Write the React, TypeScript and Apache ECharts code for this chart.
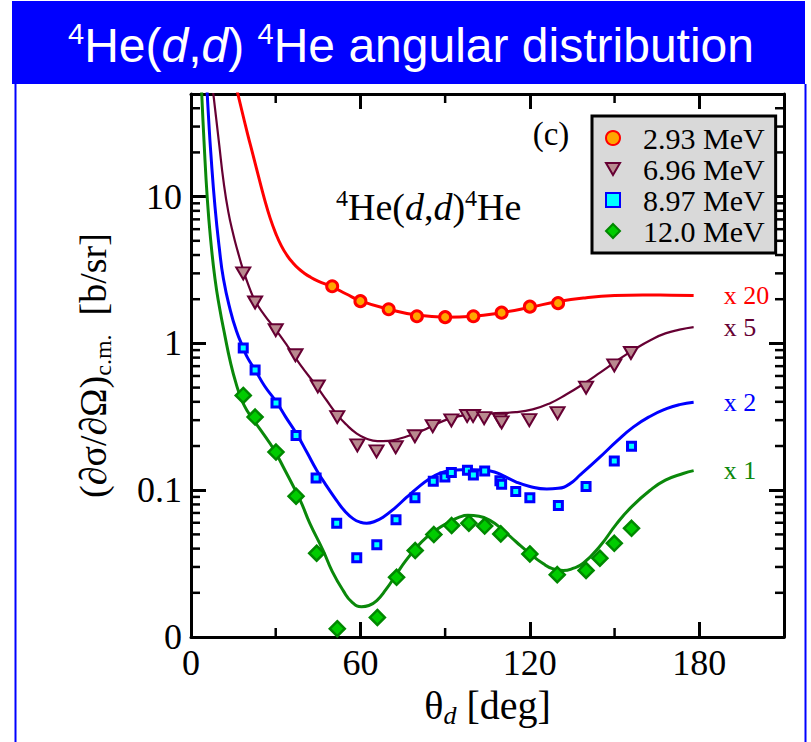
import React, { useEffect, useRef } from 'react';
import * as echarts from 'echarts';

const SERIF = '"Liberation Serif", "Times New Roman", Times, serif';
const SANS = '"Liberation Sans", Arial, Helvetica, sans-serif';

// Legend names and the multipliers applied to each curve
const energyNames = ['2.93 MeV', '6.96 MeV', '8.97 MeV', '12.0 MeV'];
const scaleFactors = ['x 20', 'x 5', 'x 2', 'x 1'];

// Axis ticks
const X_MIN = 0;
const X_MAX = 210;
const Y_MIN = 0.01;
const Y_MAX = 50;
const xTickLabels = [0, 60, 120, 180];
const xMinorTicks = [30, 90, 150];
const yTickValues = [0.01, 0.1, 1, 10];
const yTickLabels = ['0', '0.1', '1', '10'];
const yMinorTicks = [
  0.02, 0.03, 0.04, 0.05, 0.06, 0.07, 0.08, 0.09,
  0.2, 0.3, 0.4, 0.5, 0.6, 0.7, 0.8, 0.9,
  2, 3, 4, 5, 6, 7, 8, 9,
  20, 30, 40,
];

// Measured cross sections (scaled), theta in deg, sigma in b/sr
const angles293 = [50, 60, 70, 80, 90, 100, 110, 120, 130];
const values293 = [2.45, 1.94, 1.71, 1.53, 1.51, 1.53, 1.62, 1.78, 1.88];

const angles696 = [18.5, 22.7, 30, 37, 44.9, 51.8, 58.9, 65.7, 72.5, 79.3, 85.6, 92.2, 97.8, 99.9, 103.8, 109.4, 110, 119.8, 129.8, 139.9, 149.9, 155.8];
const values696 = [3.0, 1.9, 1.23, 0.83, 0.509, 0.315, 0.202, 0.184, 0.196, 0.233, 0.273, 0.299, 0.32, 0.32, 0.31, 0.302, 0.29, 0.3, 0.335, 0.5, 0.708, 0.86];

const angles897 = [18.5, 22.7, 30.1, 37.2, 44.3, 51.6, 58.7, 65.8, 72.6, 79.3, 85.8, 89.9, 92.2, 97.9, 100, 104, 109.4, 110, 115, 120, 130.1, 139.9, 149.9, 156];
const values897 = [0.93, 0.66, 0.392, 0.236, 0.121, 0.0596, 0.0346, 0.0425, 0.063, 0.0887, 0.115, 0.123, 0.132, 0.137, 0.127, 0.135, 0.116, 0.11, 0.098, 0.0887, 0.0787, 0.106, 0.158, 0.199];

const angles120 = [18.5, 22.7, 30.1, 37.2, 44.5, 51.8, 66, 72.8, 79.4, 86, 92.3, 98.4, 104, 109.7, 120, 129.7, 139.9, 144.8, 149.9, 156];
const values120 = [0.442, 0.315, 0.182, 0.091, 0.0372, 0.0114, 0.0136, 0.0255, 0.0388, 0.0499, 0.0574, 0.0596, 0.057, 0.0504, 0.0368, 0.0266, 0.0284, 0.0344, 0.0435, 0.055];

// Calculated curves (same scaling)
const fitAngles293 = [16, 18, 20, 22, 24, 26, 28, 30, 32, 34, 36, 38, 40, 42, 45, 50, 55, 60, 70, 80, 90, 100, 110, 120, 130, 140, 150, 160, 170, 178];
const fitValues293 = [55.8, 38.6, 26.9, 19.1, 13.5, 9.66, 7.16, 5.62, 4.62, 3.98, 3.55, 3.24, 3.02, 2.85, 2.66, 2.43, 2.17, 1.95, 1.71, 1.56, 1.51, 1.53, 1.62, 1.76, 1.93, 2.05, 2.12, 2.14, 2.13, 2.12];

const fitAngles696 = [7.5, 9, 10, 11.5, 13.2, 15, 16.5, 18.5, 20.5, 22.7, 26, 30, 34, 38.6, 44.5, 48, 51.6, 55, 58.7, 62, 66, 70, 74, 78, 82, 86, 91, 96, 100, 108, 115, 121, 127, 133, 139, 145, 151, 157, 163, 168, 173, 178];
const fitValues696 = [58.6, 33, 22.5, 12.8, 7.9, 5.5, 4.27, 3.15, 2.45, 1.95, 1.56, 1.24, 0.97, 0.72, 0.51, 0.41, 0.33, 0.28, 0.243, 0.225, 0.216, 0.217, 0.225, 0.238, 0.255, 0.277, 0.305, 0.322, 0.328, 0.335, 0.34, 0.355, 0.39, 0.45, 0.53, 0.635, 0.765, 0.91, 1.06, 1.17, 1.24, 1.29];

const fitAngles897 = [5.6, 6.2, 7, 8.5, 10, 11.5, 14, 16, 18.5, 20, 22.7, 26, 30, 33.5, 37.4, 41, 44.5, 48, 51.6, 54.5, 57.5, 60, 62.2, 65, 68, 72, 76.4, 80, 84.6, 88, 91.7, 96, 100, 106, 110, 115, 120, 126, 130, 134, 138, 144.8, 150.7, 156.6, 162.5, 168.4, 173, 178];
const fitValues897 = [56, 35, 20, 8.5, 4.5, 2.75, 1.66, 1.23, 0.93, 0.8, 0.66, 0.515, 0.405, 0.316, 0.242, 0.182, 0.137, 0.107, 0.085, 0.072, 0.0638, 0.0605, 0.0596, 0.0612, 0.0655, 0.075, 0.0896, 0.103, 0.12, 0.13, 0.136, 0.138, 0.138, 0.135, 0.127, 0.114, 0.106, 0.102, 0.103, 0.11, 0.128, 0.168, 0.215, 0.269, 0.318, 0.359, 0.383, 0.398];

const fitAngles120 = [3.5, 3.8, 4.6, 5.8, 7, 8.5, 10, 12, 14, 16, 18, 20, 22.7, 26, 29.1, 33, 38.6, 42, 46.8, 50, 53.9, 57, 60.4, 63, 65.8, 69, 72.8, 76, 79.9, 83, 87, 91, 95, 98, 102, 106, 110, 115.3, 120, 124.8, 128, 131.8, 135, 138.9, 145, 150.7, 156, 162.5, 168, 174.3, 178];
const fitValues120 = [67, 50, 24, 9.5, 5.0, 2.75, 1.8, 1.13, 0.74, 0.53, 0.41, 0.345, 0.29, 0.236, 0.193, 0.14, 0.086, 0.06, 0.0388, 0.028, 0.0207, 0.0173, 0.0161, 0.0164, 0.0177, 0.021, 0.0269, 0.033, 0.0409, 0.047, 0.054, 0.06, 0.0655, 0.0675, 0.0665, 0.062, 0.0545, 0.0442, 0.037, 0.0315, 0.0292, 0.0284, 0.0292, 0.0318, 0.042, 0.059, 0.077, 0.0995, 0.117, 0.13, 0.136];

const lineColors = ['#ff0000', '#660033', '#0000ff', '#0a880a'];

const zip = (xs: number[], ys: number[]) => xs.map((x, i) => [x, ys[i]]);

function fitSeries(name: string, xs: number[], ys: number[], color: string, width: number, factor: string) {
  return {
    name,
    type: 'line',
    data: zip(xs, ys),
    showSymbol: false,
    smooth: 0.5,
    clip: true,
    silent: true,
    z: 2,
    lineStyle: { color, width },
    itemStyle: { color },
    endLabel: {
      show: true,
      formatter: factor,
      distance: 30,
      color,
      fontFamily: SERIF,
      fontSize: 26,
    },
  };
}

export default function App() {
  const ref = useRef<HTMLDivElement>(null);

  useEffect(() => {
    if (!ref.current) return;
    const chart = echarts.init(ref.current, undefined, { renderer: 'svg' });

    const tickLine = (x1: number, y1: number, x2: number, y2: number) => ({
      type: 'line',
      shape: { x1, y1, x2, y2 },
      style: { stroke: '#000', lineWidth: 2.5 },
    });

    const axisCommon = {
      axisLine: { show: true, onZero: false, lineStyle: { color: '#000', width: 3 } },
      axisTick: { show: true, inside: true, length: 15, lineStyle: { color: '#000', width: 3 } },
      splitLine: { show: false },
    };

    const option: any = {
      animation: false,
      backgroundColor: '#ffffff',
      grid: { left: 191, top: 94, width: 593, height: 543, containLabel: false, outerBoundsMode: 'none' },
      legend: {
        data: [
          { name: energyNames[0] },
          { name: energyNames[1], icon: 'path://M0,0L14,0L7,12Z' },
          { name: energyNames[2] },
          { name: energyNames[3] },
        ],
        orient: 'vertical',
        left: 592,
        top: 116,
        backgroundColor: '#d9d9d9',
        borderColor: '#000',
        borderWidth: 3,
        borderRadius: 0,
        padding: [7, 11, 7, 13],
        itemGap: 1,
        itemWidth: 14,
        itemHeight: 14,
        selectedMode: false,
        textStyle: { fontFamily: SERIF, fontSize: 30, color: '#000', padding: [0, 0, 0, 18] },
      },
      xAxis: [
        {
          type: 'value',
          min: X_MIN,
          max: X_MAX,
          interval: 60,
          position: 'bottom',
          ...axisCommon,
          axisLabel: {
            show: true,
            margin: 8,
            color: '#000',
            fontFamily: SERIF,
            fontSize: 36,
            formatter: (v: number) => (xTickLabels.indexOf(v) >= 0 ? String(v) : ''),
          },
          name: '{n|θ}{s|d}{n| [deg]}',
          nameLocation: 'middle',
          nameGap: 42,
          nameTextStyle: {
            fontFamily: SERIF,
            fontSize: 40,
            color: '#000',
            rich: {
              n: { fontFamily: SERIF, fontSize: 40, color: '#000', lineHeight: 46 },
              s: { fontFamily: SERIF, fontSize: 26, fontStyle: 'italic', color: '#000', verticalAlign: 'bottom', lineHeight: 26 },
            },
          },
        },
        {
          type: 'value',
          min: X_MIN,
          max: X_MAX,
          interval: 60,
          position: 'top',
          ...axisCommon,
          axisLabel: { show: false },
        },
      ],
      yAxis: [
        {
          type: 'log',
          logBase: 10,
          min: Y_MIN,
          max: Y_MAX,
          position: 'left',
          ...axisCommon,
          axisLabel: {
            show: true,
            margin: 9,
            color: '#000',
            fontFamily: SERIF,
            fontSize: 36,
            formatter: (v: number) => {
              for (let i = 0; i < yTickValues.length; i++) {
                if (Math.abs(Math.log10(v) - Math.log10(yTickValues[i])) < 1e-6) return yTickLabels[i];
              }
              return '';
            },
          },
          name: '{n|(∂σ/∂Ω)}{s|c.m.}{n|  [b/sr]}',
          nameLocation: 'middle',
          nameRotate: 90,
          nameGap: 76,
          nameTextStyle: {
            fontFamily: SERIF,
            fontSize: 38,
            color: '#000',
            rich: {
              n: { fontFamily: SERIF, fontSize: 38, color: '#000', lineHeight: 44 },
              s: { fontFamily: SERIF, fontSize: 24, color: '#000', verticalAlign: 'bottom', lineHeight: 24 },
            },
          },
        },
        {
          type: 'log',
          logBase: 10,
          min: Y_MIN,
          max: Y_MAX,
          position: 'right',
          ...axisCommon,
          axisLabel: { show: false },
        },
      ],
      series: [
        fitSeries('fit 2.93', fitAngles293, fitValues293, lineColors[0], 3, scaleFactors[0]),
        fitSeries('fit 6.96', fitAngles696, fitValues696, lineColors[1], 2.2, scaleFactors[1]),
        fitSeries('fit 8.97', fitAngles897, fitValues897, lineColors[2], 3, scaleFactors[2]),
        fitSeries('fit 12.0', fitAngles120, fitValues120, lineColors[3], 3, scaleFactors[3]),
        {
          name: energyNames[0],
          type: 'scatter',
          data: zip(angles293, values293),
          symbol: 'circle',
          symbolSize: 11,
          z: 4,
          itemStyle: { color: '#ffa500', borderColor: '#ff0000', borderWidth: 3, opacity: 1 },
        },
        {
          name: energyNames[1],
          type: 'scatter',
          data: zip(angles696, values696),
          symbol: 'triangle',
          symbolRotate: 180,
          symbolSize: [14, 12],
          z: 4,
          itemStyle: { color: '#b98a8f', borderColor: '#660033', borderWidth: 2, opacity: 1 },
        },
        {
          name: energyNames[2],
          type: 'scatter',
          data: zip(angles897, values897),
          symbol: 'rect',
          symbolSize: 8,
          z: 4,
          itemStyle: { color: '#00ffff', borderColor: '#0000ff', borderWidth: 3, opacity: 1 },
        },
        {
          name: energyNames[3],
          type: 'scatter',
          data: zip(angles120, values120),
          symbol: 'diamond',
          symbolSize: [15, 15],
          z: 4,
          itemStyle: { color: '#00cc00', borderColor: '#008800', borderWidth: 2.5, opacity: 1 },
        },
        {
          // log minor ticks on the left and right frame
          type: 'custom',
          silent: true,
          z: 6,
          data: yMinorTicks.map((v) => [X_MIN, v]),
          renderItem: (_p: any, api: any) => {
            const v = api.value(1);
            const l = api.coord([X_MIN, v]);
            const r = api.coord([X_MAX, v]);
            return {
              type: 'group',
              children: [tickLine(l[0], l[1], l[0] + 9, l[1]), tickLine(r[0], r[1], r[0] - 9, r[1])],
            };
          },
        },
        {
          // minor ticks on the bottom and top frame
          type: 'custom',
          silent: true,
          z: 6,
          data: xMinorTicks.map((v) => [v, 1]),
          renderItem: (_p: any, api: any) => {
            const v = api.value(0);
            const b = api.coord([v, Y_MIN]);
            const t = api.coord([v, Y_MAX]);
            return {
              type: 'group',
              children: [tickLine(b[0], b[1], b[0], b[1] - 9), tickLine(t[0], t[1], t[0], t[1] + 9)],
            };
          },
        },
      ],
      graphic: [
        {
          type: 'rect',
          z: 10,
          shape: { x: 12, y: 1, width: 793, height: 83 },
          style: { fill: '#0000ff' },
        },
        {
          type: 'rect',
          z: 10,
          shape: { x: 14.5, y: 84, width: 2, height: 660 },
          style: { fill: '#0000ff' },
        },
        {
          type: 'rect',
          z: 10,
          shape: { x: 804.5, y: 84, width: 2, height: 660 },
          style: { fill: '#0000ff' },
        },
        {
          type: 'text',
          z: 11,
          x: 411,
          y: 45,
          style: {
            text: '{s|4}{n|He(}{i|d}{n|,}{i|d}{n|) }{s|4}{n|He angular distribution}',
            align: 'center',
            verticalAlign: 'middle',
            rich: {
              n: { fontFamily: SANS, fontSize: 48, fill: '#ffffff', lineHeight: 52 },
              i: { fontFamily: SANS, fontSize: 48, fontStyle: 'italic', fill: '#ffffff', lineHeight: 52 },
              s: { fontFamily: SANS, fontSize: 29, fill: '#ffffff', verticalAlign: 'top', lineHeight: 29 },
            },
          },
        },
        {
          type: 'text',
          z: 11,
          x: 551,
          y: 134,
          style: {
            text: '(c)',
            align: 'center',
            verticalAlign: 'middle',
            fontFamily: SERIF,
            fontSize: 33,
            fill: '#000',
          },
        },
        {
          type: 'text',
          z: 11,
          x: 336,
          y: 207,
          style: {
            text: '{s|4}{n|He(}{i|d}{n|,}{i|d}{n|)}{s|4}{n|He}',
            align: 'left',
            verticalAlign: 'middle',
            rich: {
              n: { fontFamily: SERIF, fontSize: 38, fill: '#000', lineHeight: 42 },
              i: { fontFamily: SERIF, fontSize: 38, fontStyle: 'italic', fill: '#000', lineHeight: 42 },
              s: { fontFamily: SERIF, fontSize: 24, fill: '#000', verticalAlign: 'top', lineHeight: 24 },
            },
          },
        },
      ],
    };

    chart.setOption(option);
    return () => chart.dispose();
  }, []);

  return (
    <div
      ref={ref}
      style={{ position: 'absolute', left: 0, top: 0, width: 811, height: 742, background: '#fff' }}
    />
  );
}
